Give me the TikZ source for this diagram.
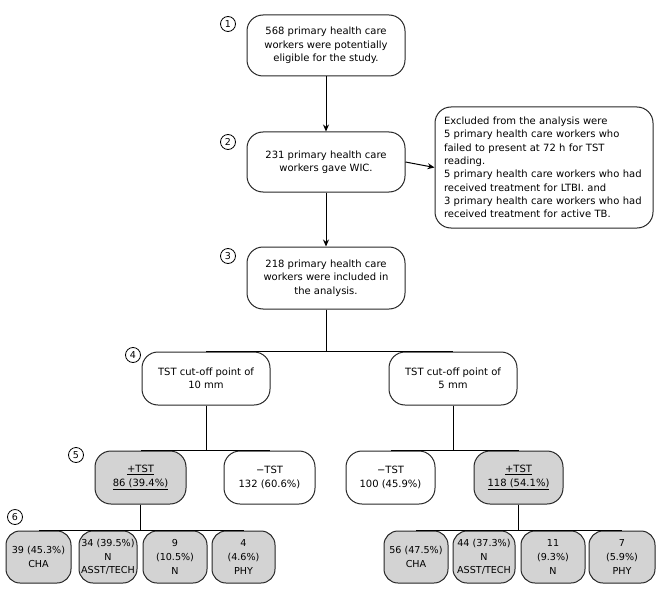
\documentclass[tikz,border=0pt]{standalone}
\usepackage{fontspec}
\setmainfont{DejaVu Sans}
\usetikzlibrary{arrows.meta}
\definecolor{boxgray}{RGB}{211,211,211}
\begin{document}
\begin{tikzpicture}[x=1pt,y=-1pt,
  box/.style={draw=black!85,line width=1pt,rounded corners=16pt,inner sep=0pt,align=center,
    font=\fontsize{10}{13.3}\selectfont},
  sbox/.style={draw=black!85,line width=1pt,rounded corners=14pt,inner sep=0pt,align=center,
    fill=boxgray,minimum height=52pt,font=\fontsize{9.6}{13.6}\selectfont},
  num/.style={draw,circle,line width=0.8pt,inner sep=0pt,minimum size=15pt,font=\fontsize{9.5}{10}\selectfont},
  conn/.style={line width=1pt},
  arr/.style={conn,-{Stealth[length=7pt,width=6pt]}}]
\useasboundingbox (0,0) rectangle (660,588);
% main column
\node[box,minimum width=158pt,minimum height=61pt] (b1) at (326,45.5)
  {568 primary health care\\workers were potentially\\eligible for the study.};
\node[box,minimum width=158pt,minimum height=60pt] (b2) at (326,162)
  {231 primary health care\\workers gave WIC.};
\node[box,minimum width=158pt,minimum height=62pt] (b3) at (326,278)
  {218 primary health care\\workers were included in\\the analysis.};
\node[box,minimum width=218pt,minimum height=121pt,align=left,text width=200pt] (ex) at (544,167.5)
  {Excluded from the analysis were\\5 primary health care workers who\\failed to present at 72 h for TST\\reading.\\5 primary health care workers who had\\received treatment for LTBI. and\\3 primary health care workers who had\\received treatment for active TB.};
% cut-off
\node[box,minimum width=128pt,minimum height=53pt] (cl) at (206,378.5) {TST cut-off point of\\10 mm};
\node[box,minimum width=128pt,minimum height=53pt] (cr) at (453,378.5) {TST cut-off point of\\5 mm};
% row 5
\node[box,fill=boxgray,minimum width=91pt,minimum height=53pt] (pl) at (140.5,477.5) {\underline{+TST}\\\underline{86 (39.4\%)}};
\node[box,minimum width=91pt,minimum height=53pt] (nl) at (269.5,477.5) {−TST\\132 (60.6\%)};
\node[box,minimum width=89pt,minimum height=53pt] (nr) at (390.5,477.5) {−TST\\100 (45.9\%)};
\node[box,fill=boxgray,minimum width=89pt,minimum height=53pt] (pr) at (518.5,477.5) {\underline{+TST}\\\underline{118 (54.1\%)}};
% row 6 left
\node[sbox,minimum width=65pt] (l1) at (38.5,557) {39 (45.3\%)\\CHA};
\node[sbox,minimum width=58pt] (l2) at (108,557) {34 (39.5\%)\\N\\ASST/TECH};
\node[sbox,minimum width=64pt] (l3) at (175,557) {9\\(10.5\%)\\N};
\node[sbox,minimum width=63pt] (l4) at (243.5,557) {4\\(4.6\%)\\PHY};
% row 6 right
\node[sbox,minimum width=64pt] (r1) at (416,557) {56 (47.5\%)\\CHA};
\node[sbox,minimum width=62pt] (r2) at (484,557) {44 (37.3\%)\\N\\ASST/TECH};
\node[sbox,minimum width=64pt] (r3) at (553,557) {11\\(9.3\%)\\N};
\node[sbox,minimum width=66pt] (r4) at (622,557) {7\\(5.9\%)\\PHY};
% numbers
\node[num] (n1) at (228,24) {1};
\node[num] (n2) at (228,142) {2};
\node[num] (n3) at (228,256) {3};
\node[num] (n4) at (133,355) {4};
\node[num] (n5) at (76,455) {5};
\node[num] (n6) at (15,517) {6};
% connectors
\draw[arr] (b1.south) -- (b2.north);
\draw[arr] (b2.south) -- (b3.north);
\draw[arr] (b2.east) -- (ex.west);
\draw[conn] (b3.south) |- (cl.north);
\draw[conn] (b3.south) |- (cr.north);
\draw[conn] (cl.south) |- (pl.north);
\draw[conn] (cl.south) |- (nl.north);
\draw[conn] (cr.south) |- (nr.north);
\draw[conn] (cr.south) |- (pr.north);
\draw[conn] (pl.south) |- (l1.north);
\draw[conn] (pl.south) |- (l4.north);
\draw[conn] (pr.south) |- (r1.north);
\draw[conn] (pr.south) |- (r4.north);
\end{tikzpicture}
\end{document}
